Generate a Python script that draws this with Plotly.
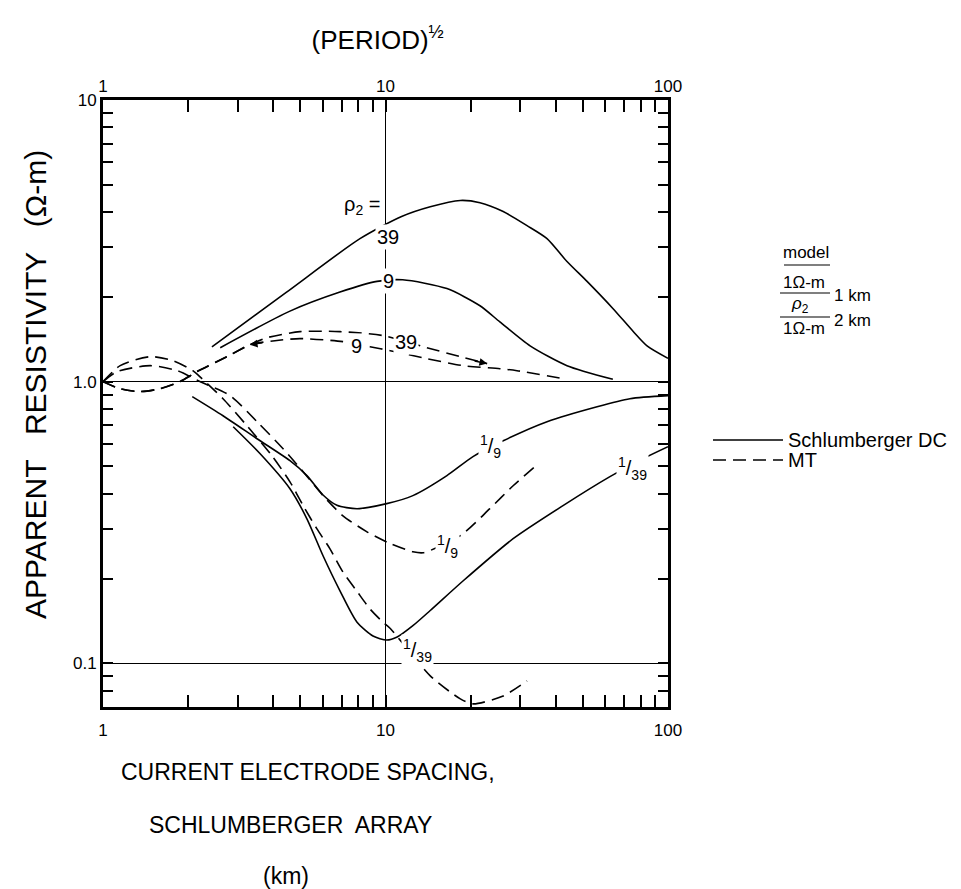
import math
import plotly.graph_objects as go

# ---------------- data ----------------
# Schlumberger DC curves, rho2 = 39, 9, 1/9, 1/39
dc_39_x = [2.43, 4.44, 8.12, 11.4, 14.4, 18.4, 21.6, 26.1, 31.7, 37.3, 43.9, 51.7, 63.8, 75.2, 84.3, 100]
dc_39_y = [1.33, 2.07, 3.22, 3.86, 4.18, 4.40, 4.32, 4.02, 3.58, 3.22, 2.67, 2.27, 1.82, 1.51, 1.34, 1.21]

dc_9_x = [2.60, 4.59, 6.90, 9.33, 11.5, 16.5, 21.6, 25.4, 32.5, 43.9, 63.8]
dc_9_y = [1.32, 1.78, 2.08, 2.27, 2.30, 2.14, 1.86, 1.63, 1.34, 1.14, 1.02]

dc_1_9_x = [2.07, 2.66, 3.51, 4.59, 5.27, 6.01, 6.73, 7.93, 10.1, 12.5, 16.5, 20.4, 26.1, 37.3, 56.1, 73.3, 100]
dc_1_9_y = [0.885, 0.757, 0.627, 0.524, 0.464, 0.396, 0.364, 0.354, 0.369, 0.394, 0.464, 0.542, 0.617, 0.721, 0.815, 0.870, 0.892]

dc_1_39_x = [2.89, 3.60, 4.59, 5.27, 6.01, 6.90, 7.93, 9.03, 10.1, 11.0, 12.5, 14.4, 18.8, 28.3, 42.5, 62.3, 81.6, 100]
dc_1_39_y = [0.692, 0.555, 0.417, 0.326, 0.241, 0.181, 0.140, 0.125, 0.121, 0.124, 0.136, 0.154, 0.196, 0.277, 0.363, 0.460, 0.533, 0.588]

# MT curves, rho2 = 39, 9, 1/9, 1/39
mt_39_x = [1.0, 1.15, 1.35, 1.59, 1.87, 2.15, 2.75, 3.31, 3.81, 4.98, 6.90, 9.80, 13.6, 18.4, 22.9]
mt_39_y = [1.0, 0.944, 0.922, 0.944, 1.0, 1.085, 1.227, 1.353, 1.433, 1.505, 1.505, 1.457, 1.331, 1.227, 1.159]

mt_9_x = [1.0, 1.15, 1.35, 1.59, 1.87, 2.15, 2.75, 3.31, 4.06, 4.98, 7.07, 8.81, 10.4, 14.0, 18.8, 25.4, 29.2, 42.5]
mt_9_y = [1.0, 0.944, 0.922, 0.944, 1.0, 1.085, 1.227, 1.353, 1.398, 1.422, 1.387, 1.331, 1.288, 1.207, 1.140, 1.112, 1.094, 1.025]

mt_1_9_x = [1.0, 1.12, 1.47, 1.83, 2.21, 2.82, 3.51, 4.34, 5.11, 6.01, 7.07, 8.60, 10.4, 12.5, 13.6, 18.4, 23.4, 28.3, 34.4]
mt_1_9_y = [1.0, 1.085, 1.140, 1.094, 1.0, 0.892, 0.721, 0.578, 0.479, 0.394, 0.334, 0.293, 0.266, 0.249, 0.247, 0.284, 0.354, 0.427, 0.507]

mt_1_39_x = [1.0, 1.15, 1.47, 1.77, 2.08, 2.24, 2.66, 3.23, 3.96, 4.59, 5.11, 5.72, 6.36, 7.07, 7.93, 8.81, 9.80, 10.4, 14.4, 18.4, 20.4, 26.1, 31.7]
mt_1_39_y = [1.0, 1.140, 1.227, 1.187, 1.094, 1.025, 0.870, 0.698, 0.546, 0.441, 0.363, 0.300, 0.255, 0.211, 0.180, 0.156, 0.140, 0.133, 0.0903, 0.0748, 0.0718, 0.0766, 0.0867]

# axes
x_tick_vals = [1, 10, 100]
x_tick_text = ["1", "10", "100"]
x_minor_vals = [2, 3, 4, 5, 6, 7, 8, 9, 20, 30, 40, 50, 60, 70, 80, 90]
y_tick_vals = [0.1, 1, 10]
y_tick_text = ["0.1", "1.0", "10"]
y_minor_vals = [0.08, 0.09, 0.2, 0.3, 0.4, 0.5, 0.6, 0.7, 0.8, 0.9, 2, 3, 4, 5, 6, 7, 8, 9]

FONT = "Liberation Sans, Arial, sans-serif"
W, H = 961, 889
L, R, T, B = 103, 293, 100, 182
PW, PH = W - L - R, H - T - B


def px2paper(px, py):
    """Convert a page-pixel position (for decorations only) to paper coordinates."""
    return (px - L) / PW, (H - B - py) / PH


fig = go.Figure()

dc_series = [(dc_39_x, dc_39_y), (dc_9_x, dc_9_y), (dc_1_9_x, dc_1_9_y), (dc_1_39_x, dc_1_39_y)]
mt_series = [(mt_39_x, mt_39_y), (mt_9_x, mt_9_y), (mt_1_9_x, mt_1_9_y), (mt_1_39_x, mt_1_39_y)]
MT_DASH = "13px,7px"

for xs, ys in dc_series:
    fig.add_trace(go.Scatter(
        x=xs, y=ys, mode="lines", name="Schlumberger DC", showlegend=False, hoverinfo="skip",
        line=dict(color="black", width=1.6, shape="spline", smoothing=0.7)))

for xs, ys in mt_series:
    fig.add_trace(go.Scatter(
        x=xs, y=ys, mode="lines", name="MT", showlegend=False, hoverinfo="skip",
        line=dict(color="black", width=1.6, shape="spline", smoothing=0.7, dash=MT_DASH)))

# invisible trace that anchors the top (period) axis
fig.add_trace(go.Scatter(x=x_tick_vals, y=[1, 1, 1], xaxis="x2", yaxis="y", mode="lines",
                         line=dict(width=0), opacity=0, showlegend=False, hoverinfo="skip"))

axis_common = dict(
    type="log", ticks="inside", tickcolor="black", tickwidth=1.5,
    showline=True, linecolor="black", linewidth=3, mirror="ticks",
    showgrid=True, gridcolor="black", gridwidth=1, zeroline=False,
    tickfont=dict(family=FONT, size=17, color="black"),
)

fig.update_layout(
    xaxis=dict(range=[0, 2], tickvals=x_tick_vals, ticktext=x_tick_text, ticklen=12,
               ticklabelstandoff=6,
               minor=dict(tickmode="array", tickvals=x_minor_vals, ticks="inside", ticklen=12,
                          tickcolor="black", tickwidth=1.5, showgrid=False),
               **axis_common),
    yaxis=dict(range=[-1.155, 1.0], tickvals=y_tick_vals, ticktext=y_tick_text, ticklen=10,
               minor=dict(tickmode="array", tickvals=y_minor_vals, ticks="inside", ticklen=10,
                          tickcolor="black", tickwidth=1.5, showgrid=False),
               **axis_common),
    xaxis2=dict(type="log", range=[0, 2], overlaying="x", side="top", anchor="y",
                tickvals=x_tick_vals, ticktext=x_tick_text, ticks="", showgrid=False,
                showline=False, zeroline=False, ticklabelstandoff=4,
                tickfont=dict(family=FONT, size=17, color="black")),
)

# y-axis title
ax_, ay_ = px2paper(35, 385)
fig.add_annotation(x=ax_, y=ay_, xref="paper", yref="paper", text="APPARENT   RESISTIVITY   (Ω-m)",
                   textangle=-90, showarrow=False, xanchor="center", yanchor="middle",
                   font=dict(family=FONT, size=30, color="black"))

# curve labels (log10 coordinates on log axes)
curve_labels = [
    ("ρ<sub>2</sub> =", 0.917, 0.625),
    ("39", 1.009, 0.515),
    ("9", 1.012, 0.359),
    ("39", 1.073, 0.142),
    ("9", 0.899, 0.128),
    ("<sup>1</sup>/<sub>9</sub>", 1.370, -0.231),
    ("<sup>1</sup>/<sub>9</sub>", 1.221, -0.586),
    ("<sup>1</sup>/<sub>39</sub>", 1.873, -0.309),
    ("<sup>1</sup>/<sub>39</sub>", 1.115, -0.956),
]
for txt, lx, ly in curve_labels:
    fig.add_annotation(x=lx, y=ly, xref="x", yref="y", text=txt, showarrow=False,
                       bgcolor="white", borderpad=1,
                       font=dict(family=FONT, size=20, color="black"))

# small arrowheads pointing along the MT curves (at the 9 start and 39 end)
for xv, yv, tail_dx, tail_dy in [(mt_9_x[7], mt_9_y[7], 14, -2), (mt_39_x[-1], mt_39_y[-1], -14, -3)]:
    fig.add_annotation(x=math.log10(xv), y=math.log10(yv), xref="x", yref="y", text="",
                       showarrow=True, ax=tail_dx, ay=tail_dy, arrowhead=2, arrowsize=1.1,
                       arrowwidth=1.4, arrowcolor="black")

# x-axis title (three centred lines)
for txt, cx, cy in [("CURRENT ELECTRODE SPACING,", 308, 772),
                    ("SCHLUMBERGER  ARRAY", 290, 825),
                    ("(km)", 286, 876)]:
    ax_, ay_ = px2paper(cx, cy)
    fig.add_annotation(x=ax_, y=ay_, xref="paper", yref="paper",
                       text=txt, showarrow=False, xanchor="center", yanchor="middle",
                       font=dict(family=FONT, size=23, color="black"))

# model sketch on the right
model_texts = [
    ("model", 806, 252, "center"),
    ("1Ω-m", 804, 282, "center"),
    ("1 km", 832, 295, "left"),
    ("<i>ρ</i><sub>2</sub>", 800, 305, "center"),
    ("2 km", 832, 320, "left"),
    ("1Ω-m", 804, 328, "center"),
]
for txt, px, py, anc in model_texts:
    ax_, ay_ = px2paper(px, py)
    fig.add_annotation(x=ax_, y=ay_, xref="paper", yref="paper", text=txt, showarrow=False,
                       xanchor=anc, yanchor="middle",
                       font=dict(family=FONT, size=17, color="black"))

for x0, x1, py in [(784, 830, 265), (780, 830, 293), (780, 830, 317)]:
    a0, b0 = px2paper(x0, py)
    a1, _ = px2paper(x1, py)
    fig.add_shape(type="line", xref="paper", yref="paper", x0=a0, x1=a1, y0=b0, y1=b0,
                  line=dict(color="black", width=1.2))

# key for line styles
for label, dash, py in [("Schlumberger DC", "solid", 440), ("MT", MT_DASH, 460)]:
    a0, b0 = px2paper(713, py)
    a1, _ = px2paper(783, py)
    fig.add_shape(type="line", xref="paper", yref="paper", x0=a0, x1=a1, y0=b0, y1=b0,
                  line=dict(color="black", width=1.4, dash=dash))
    ax_, ay_ = px2paper(786, py)
    fig.add_annotation(x=ax_, y=ay_, xref="paper", yref="paper", text=label, showarrow=False,
                       xanchor="left", yanchor="middle",
                       font=dict(family=FONT, size=20, color="black"))

fig.update_layout(
    width=W, height=H,
    margin=dict(l=L, r=R, t=T, b=B),
    plot_bgcolor="white", paper_bgcolor="white",
    font=dict(family=FONT, color="black"),
    title=dict(text="(PERIOD)<sup>½</sup>", x=0.393, xanchor="center", xref="container",
               y=0.955, yanchor="middle", yref="container",
               font=dict(family=FONT, size=26, color="black")),
    showlegend=False,
)

fig.write_html("out.html", config={"displayModeBar": False},
               post_script="document.body.style.margin='0px';")
